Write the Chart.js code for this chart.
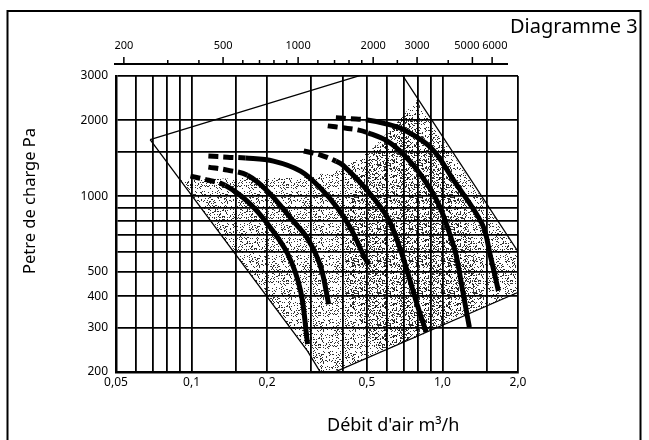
<!DOCTYPE html>
<html>
<head>
<meta charset="utf-8">
<script src="https://cdn.jsdelivr.net/npm/chart.js@4.4.1/dist/chart.umd.min.js"></script>
<style>
  html, body { margin: 0; padding: 0; background: #fff; }
</style>
</head>
<body>
<canvas id="chart" width="649" height="440"></canvas>
<script>
// grid lines and labels
const xGrid = [0.05, 0.06, 0.07, 0.08, 0.09, 0.1, 0.15, 0.2, 0.3, 0.4, 0.5, 0.6, 0.7, 0.8, 0.9, 1, 1.5, 2];
const xLabelValues = [0.05, 0.1, 0.2, 0.5, 1, 2];
const xLabelTexts = ['0,05', '0,1', '0,2', '0,5', '1,0', '2,0'];
const yGrid = [200, 300, 400, 500, 600, 700, 800, 900, 1000, 1500, 2000, 3000];
const yLabels = [200, 300, 400, 500, 1000, 2000, 3000];
const topTicks = [200, 300, 400, 500, 600, 700, 800, 900, 1000, 1200, 1400, 1600, 1800, 2000, 2500, 3000, 4000, 5000, 6000];
const topLabelValues = [200, 500, 1000, 2000, 3000, 5000, 6000];
const topLabelTexts = ['200', '500', '1000', '2000', '3000', '5000\u2002\u2002', '\u20026000'];

// fan curves [flow m3/s, pressure Pa]; first points are the dashed part
const curve1 = [[0.099, 1200], [0.117, 1156], [0.136, 1104], [0.167, 953], [0.199, 785], [0.2415, 590], [0.272, 420], [0.29, 258]];
const curve2 = [[0.1167, 1303], [0.139, 1268], [0.167, 1210], [0.201, 1045], [0.255, 793], [0.29, 678], [0.327, 524], [0.352, 372]];
const curve3 = [[0.1167, 1442], [0.139, 1428], [0.164, 1416], [0.212, 1377], [0.272, 1256], [0.327, 1074], [0.383, 893], [0.431, 743], [0.486, 579], [0.509, 533]];
const curve4 = [[0.28, 1510], [0.327, 1456], [0.376, 1377], [0.401, 1327], [0.505, 1045], [0.607, 815], [0.678, 618], [0.729, 491], [0.792, 372], [0.861, 288]];
const curve5 = [[0.349, 1901], [0.401, 1867], [0.46, 1832], [0.505, 1783], [0.601, 1656], [0.703, 1456], [0.822, 1210], [0.962, 935], [1.084, 678], [1.135, 579], [1.2, 428], [1.28, 301]];
const curve6 = [[0.376, 2046], [0.431, 2028], [0.495, 2009], [0.5955, 1937], [0.703, 1832], [0.902, 1552], [1.114, 1146], [1.442, 771], [1.552, 579], [1.671, 420]];
const dashEnds = [2, 2, 2, 2, 3, 2];

// operating envelope and shaded zones
const envelope = [[0.0684, 1675], [0.65, 3328], [2.42, 450], [0.335, 191], [0.29, 242], [0.0684, 1675]];
const shade = [[0.0902, 1156], [0.1567, 1180], [0.272, 1180], [0.394, 1269], [0.519, 1524], [0.684, 2042], [0.785, 2408],
  [2.42, 450], [0.335, 191], [0.29, 242], [0.0902, 1156]];
const shadeDense = [[0.412, 880], [0.495, 1390], [0.716, 2158], [1.189, 1057], [1.429, 386], [0.902, 291], [0.569, 240], [0.412, 386], [0.412, 880]];

const toXY = arr => arr.map(([x, y]) => ({ x, y }));

// speckle texture for the shaded zones
function cellHash(i, j, seed) {
  let h = (Math.imul(i, 374761393) + Math.imul(j, 668265263) + seed) | 0;
  h = Math.imul(h ^ (h >>> 13), 1274126177);
  h ^= h >>> 16;
  return (h >>> 0) % 100;
}

function makeSpeckle(seed, pct) {
  const c = document.createElement('canvas');
  c.width = 32;
  c.height = 32;
  const g = c.getContext('2d');
  g.fillStyle = 'rgba(0,0,0,0.8)';
  for (let i = 0; i < 32; i++) {
    for (let j = 0; j < 32; j++) {
      if (cellHash(i, j, seed) < pct) g.fillRect(i, j, 1, 1);
    }
  }
  return g.createPattern(c, 'repeat');
}

const tickFont = { family: '"Noto Sans", sans-serif', size: 12 };

const extras = {
  id: 'extras',
  afterDraw(chart) {
    const ctx = chart.ctx;
    const top = chart.scales.xTop;
    ctx.save();
    ctx.strokeStyle = '#000';
    ctx.fillStyle = '#000';

    // outer frame
    ctx.lineWidth = 2;
    ctx.strokeRect(7.5, 11, 633, 440);

    // top m3/h scale line with ticks
    const yLine = 64;
    ctx.beginPath();
    ctx.moveTo(114, yLine);
    ctx.lineTo(508, yLine);
    ctx.stroke();
    ctx.lineWidth = 1.5;
    topTicks.forEach(v => {
      const x = top.getPixelForValue(v);
      const h = topLabelValues.includes(v) ? 7 : 4;
      ctx.beginPath();
      ctx.moveTo(x, yLine);
      ctx.lineTo(x, yLine - h);
      ctx.stroke();
    });

    ctx.font = '20px "Noto Sans"';
    ctx.textAlign = 'left';
    ctx.textBaseline = 'alphabetic';
    ctx.fillText('Diagramme 3', 510, 33);

    ctx.font = '18px "Noto Sans"';
    ctx.fillText('Débit d\'air m³/h', 327, 431);

    ctx.save();
    ctx.translate(30, 201);
    ctx.rotate(-Math.PI / 2);
    ctx.font = '16.5px "Noto Sans"';
    ctx.textAlign = 'center';
    ctx.textBaseline = 'middle';
    ctx.fillText('Petre de charge Pa', 0, 0);
    ctx.restore();

    ctx.restore();
  }
};

const curveSets = [curve1, curve2, curve3, curve4, curve5, curve6].map((c, i) => ({
  data: toXY(c),
  borderColor: '#000',
  borderWidth: 5,
  pointRadius: 0,
  tension: 0.35,
  fill: false,
  segment: {
    borderDash: ctx => (ctx.p1DataIndex <= dashEnds[i] ? [10, 5] : undefined)
  }
}));

const shadeSet = (pts, pattern) => ({
  data: toXY(pts),
  borderColor: 'rgba(0,0,0,0)',
  borderWidth: 0,
  backgroundColor: pattern,
  pointRadius: 0,
  tension: 0,
  fill: 'shape'
});

new Chart(document.getElementById('chart'), {
  type: 'line',
  data: {
    datasets: [
      ...curveSets,
      {
        data: toXY(envelope),
        borderColor: '#000',
        borderWidth: 1.3,
        pointRadius: 0,
        tension: 0,
        fill: false
      },
      shadeSet(shadeDense, makeSpeckle(977, 18)),
      shadeSet(shade, makeSpeckle(31, 17))
    ]
  },
  options: {
    responsive: false,
    animation: false,
    layout: { padding: { left: 0, right: 131, top: 0, bottom: 0 } },
    plugins: {
      legend: { display: false },
      tooltip: { enabled: false }
    },
    scales: {
      x: {
        type: 'logarithmic',
        position: 'bottom',
        min: 0.05,
        max: 2,
        afterBuildTicks: s => { s.ticks = xGrid.map(v => ({ value: v })); },
        afterFit: s => { s.height = 68; },
        grid: { color: '#000', lineWidth: 1.8, drawTicks: false },
        border: { color: '#000', width: 2.5 },
        ticks: {
          padding: 3,
          autoSkip: false,
          maxRotation: 0,
          color: '#000',
          font: tickFont,
          callback: v => {
            const i = xLabelValues.indexOf(v);
            return i < 0 ? '' : xLabelTexts[i];
          }
        }
      },
      xTop: {
        type: 'logarithmic',
        position: 'top',
        axis: 'x',
        min: 186,
        max: 7620,
        afterBuildTicks: s => { s.ticks = topTicks.map(v => ({ value: v })); },
        afterFit: s => { s.height = 76; },
        grid: { display: false, drawTicks: false },
        border: { display: false },
        ticks: {
          padding: 24,
          autoSkip: false,
          maxRotation: 0,
          color: '#000',
          font: { family: '"Noto Sans", sans-serif', size: 11 },
          callback: v => {
            const i = topLabelValues.indexOf(v);
            return i < 0 ? '' : topLabelTexts[i];
          }
        }
      },
      y: {
        type: 'logarithmic',
        min: 200,
        max: 3000,
        afterBuildTicks: s => { s.ticks = yGrid.map(v => ({ value: v })); },
        afterFit: s => { s.width = 116; },
        grid: { color: '#000', lineWidth: 1.8, drawTicks: false },
        border: { color: '#000', width: 2.5 },
        ticks: {
          padding: 8,
          autoSkip: false,
          color: '#000',
          font: tickFont,
          callback: v => (yLabels.includes(v) ? String(v) : '')
        }
      }
    }
  },
  plugins: [extras]
});
</script>
</body>
</html>
